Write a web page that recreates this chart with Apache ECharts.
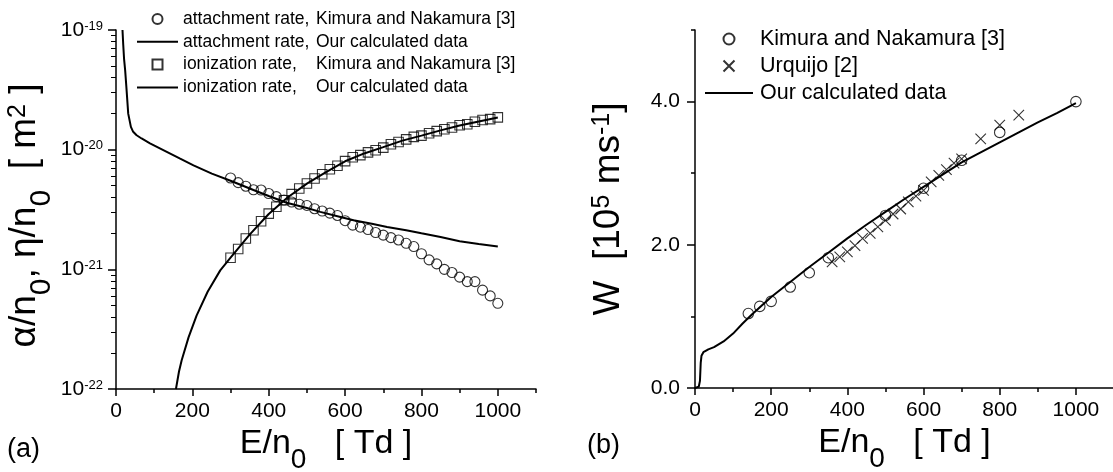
<!DOCTYPE html>
<html>
<head>
<meta charset="utf-8">
<script src="https://cdn.jsdelivr.net/npm/echarts@6/dist/echarts.min.js"></script>
<style>
  html, body { margin: 0; padding: 0; background: #fff; }
  #chart { width: 1113px; height: 472px; }
</style>
</head>
<body>
<div id="chart"></div>
<script>
// ---------- panel (a): attachment and ionization coefficients ----------
const attKimuraE = [300, 320, 340, 360, 380, 400, 420, 440, 460, 480, 500, 520, 540, 560, 580, 600, 620, 640,
                    660, 680, 700, 720, 740, 760, 780, 800, 820, 840, 860, 880, 900, 920, 940, 960, 980, 1000];
const attKimuraV = [5.8e-21, 5.3e-21, 4.95e-21, 4.62e-21, 4.6e-21, 4.3e-21, 4.05e-21, 3.8e-21, 3.65e-21, 3.5e-21,
                    3.42e-21, 3.21e-21, 3.07e-21, 2.95e-21, 2.82e-21, 2.55e-21, 2.34e-21, 2.25e-21, 2.15e-21, 2.03e-21,
                    1.93e-21, 1.84e-21, 1.76e-21, 1.65e-21, 1.55e-21, 1.35e-21, 1.2e-21, 1.11e-21, 1.0e-21, 9.4e-22,
                    8.6e-22, 7.9e-22, 7.9e-22, 6.7e-22, 6.0e-22, 5.2e-22];

const attCalcE = [17, 19, 21, 24, 27, 32, 39, 45, 54, 67, 89, 133, 168, 203, 251, 300, 360, 400, 447, 500,
                  535, 580, 622, 670, 710, 760, 800, 850, 900, 950, 1000];
const attCalcV = [1.0e-19, 7.5e-20, 5.8e-20, 4.6e-20, 3.4e-20, 2.0e-20, 1.55e-20, 1.41e-20, 1.32e-20, 1.24e-20,
                  1.13e-20, 9.6e-21, 8.4e-21, 7.4e-21, 6.3e-21, 5.5e-21, 4.6e-21, 4.1e-21, 3.6e-21, 3.25e-21,
                  3.02e-21, 2.78e-21, 2.57e-21, 2.4e-21, 2.26e-21, 2.12e-21, 2.0e-21, 1.86e-21, 1.72e-21, 1.63e-21, 1.55e-21];

const ionKimuraE = [300, 320, 340, 360, 380, 400, 420, 440, 460, 480, 500, 520, 540, 560, 580, 600, 620, 640,
                    660, 680, 700, 720, 740, 760, 780, 800, 820, 840, 860, 880, 900, 920, 940, 960, 980, 1000];
const ionKimuraV = [1.25e-21, 1.48e-21, 1.81e-21, 2.12e-21, 2.52e-21, 2.92e-21, 3.33e-21, 3.78e-21, 4.25e-21, 4.73e-21,
                    5.21e-21, 5.75e-21, 6.24e-21, 6.87e-21, 7.33e-21, 8.02e-21, 8.65e-21, 9.0e-21, 9.5e-21, 9.9e-21,
                    1.04e-20, 1.11e-20, 1.16e-20, 1.22e-20, 1.28e-20, 1.31e-20, 1.37e-20, 1.43e-20, 1.48e-20, 1.53e-20,
                    1.6e-20, 1.63e-20, 1.71e-20, 1.77e-20, 1.8e-20, 1.86e-20];

const ionCalcE = [157, 165, 172, 190, 211, 240, 273, 300, 350, 400, 450, 500, 550, 600, 650, 700, 750, 800, 850, 900, 950, 1000];
const ionCalcV = [1.0e-22, 1.4e-22, 1.74e-22, 2.7e-22, 4.1e-22, 6.5e-22, 9.8e-22, 1.25e-21, 1.95e-21, 2.9e-21, 4.0e-21,
                  5.2e-21, 6.5e-21, 8.0e-21, 9.3e-21, 1.05e-20, 1.19e-20, 1.31e-20, 1.45e-20, 1.59e-20, 1.72e-20, 1.86e-20];

// ---------- panel (b): drift velocity W ----------
const wKimuraE = [140, 170, 200, 250, 300, 350, 500, 600, 700, 800, 1000];
const wKimuraV = [1.04, 1.14, 1.21, 1.41, 1.61, 1.82, 2.41, 2.79, 3.18, 3.57, 4.0];

const wUrquijoE = [360, 380, 400, 420, 440, 460, 480, 500, 520, 540, 560, 580, 600, 620, 640, 660, 680, 700, 750, 800, 850];
const wUrquijoV = [1.76, 1.83, 1.9, 1.99, 2.09, 2.16, 2.25, 2.34, 2.43, 2.5, 2.6, 2.68, 2.76, 2.88, 2.97, 3.05, 3.14, 3.2,
                   3.48, 3.67, 3.81];

const wCalcE = [0, 10, 13, 15, 17, 22, 35, 50, 75, 100, 125, 150, 200, 250, 300, 350, 400, 450, 500, 550, 600, 650,
                700, 750, 800, 850, 900, 950, 1000];
const wCalcV = [0, 0.02, 0.1, 0.35, 0.45, 0.5, 0.54, 0.57, 0.65, 0.76, 0.9, 1.03, 1.27, 1.48, 1.69, 1.89, 2.09, 2.28,
                2.46, 2.64, 2.81, 2.98, 3.15, 3.29, 3.43, 3.57, 3.71, 3.84, 3.98];

// ---------- axis ticks ----------
const eMajorTicks = [0, 200, 400, 600, 800, 1000];
const eMinorTicks = [100, 300, 500, 700, 900, 1100];
const decadeTicks = [-22, -21, -20, -19];
const decadeSteps = [2, 3, 4, 5, 6, 7, 8, 9];
const wMajorTicks = [0, 2, 4];
const wMinorTicks = [1, 3, 5];

// ---------- legend text ----------
const legendA = [
  'attachment rate, Kimura and Nakamura [3]',
  'attachment rate, Our calculated data',
  'ionization rate, Kimura and Nakamura [3]',
  'ionization rate, Our calculated data'
];
const legendB = ['Kimura and Nakamura [3]', 'Urquijo [2]', 'Our calculated data'];

const FONT = '"Liberation Sans", Arial, Helvetica, sans-serif';
const INK = '#000';

// panel (a) is drawn on log10 of the rate coefficient
const pairsLog = (xs, ys) => xs.map((x, i) => [x, Math.log10(ys[i])]);
const pairs = (xs, ys) => xs.map((x, i) => [x, ys[i]]);

const logMinor = [];
for (let d = decadeTicks[0]; d < decadeTicks[decadeTicks.length - 1]; d++) {
  decadeSteps.forEach(k => logMinor.push(d + Math.log10(k)));
}

// rich styles for axis titles: m = main text, s = subscript, p = superscript
function titleRich(size, subSize, supSize, subDrop) {
  return {
    m: { fontFamily: FONT, fontSize: size, lineHeight: size, verticalAlign: 'top', color: INK },
    s: { fontFamily: FONT, fontSize: subSize, lineHeight: subSize, verticalAlign: 'top', padding: [subDrop, 0, 0, 0], color: INK },
    p: { fontFamily: FONT, fontSize: supSize, lineHeight: supSize, verticalAlign: 'top', color: INK }
  };
}
const xTitleRich = titleRich(34, 28, 22, 19);
const yTitleRich = titleRich(37, 30, 25, 21);

const openSymbolStyle = { color: 'rgba(255,255,255,0)', borderColor: '#000', borderWidth: 1.1 };
const crossPath = 'path://M0,0L10,10M10,0L0,10';
const lineIcon = 'path://M0,0L41,0L41,2L0,2Z';
const lineIconB = 'path://M0,0L48,0L48,2L0,2Z';
const squareIcon = 'path://M0,0L10,0L10,10L0,10Z';

function xAxes(grid) {
  return [
    {
      gridIndex: grid, type: 'value', min: 0, max: 1100,
      axisLine: { show: true, onZero: false, lineStyle: { color: INK, width: 1.5 } },
      axisTick: { show: true, length: 7, customValues: eMajorTicks, lineStyle: { color: INK, width: 1.5 } },
      axisLabel: {
        customValues: eMajorTicks, margin: 12, fontFamily: FONT, fontSize: 21, color: INK,
        formatter: v => String(v)
      },
      splitLine: { show: false },
      name: '{m|E/n}{s|0}{m|   [ Td ]}',
      nameLocation: 'middle', nameGap: 36,
      nameTextStyle: { rich: xTitleRich }
    },
    {
      gridIndex: grid, type: 'value', min: 0, max: 1100, position: 'bottom',
      axisLine: { show: false },
      axisTick: { show: true, length: 4, customValues: eMinorTicks, lineStyle: { color: INK, width: 1.5 } },
      axisLabel: { show: false },
      splitLine: { show: false }
    }
  ];
}

const option = {
  animation: false,
  backgroundColor: '#fff',
  grid: [
    { left: 116, top: 30, width: 420, height: 359, containLabel: false, outerBoundsMode: 'none' },
    { left: 695, top: 30, width: 419, height: 358, containLabel: false, outerBoundsMode: 'none' }
  ],
  xAxis: [...xAxes(0), ...xAxes(1)],
  yAxis: [
    {
      gridIndex: 0, type: 'value', min: -22, max: -19, interval: 1,
      axisLine: { show: true, onZero: false, lineStyle: { color: INK, width: 1.5 } },
      axisTick: { show: true, length: 8, lineStyle: { color: INK, width: 1.5 } },
      axisLabel: {
        margin: 13, color: INK,
        formatter: v => '{b|10}{p|' + v + '}',
        rich: {
          b: { fontFamily: FONT, fontSize: 21, lineHeight: 21, verticalAlign: 'top', color: INK },
          p: { fontFamily: FONT, fontSize: 13, lineHeight: 13, verticalAlign: 'top', color: INK }
        }
      },
      splitLine: { show: false },
      name: '{m|\u03b1/n}{s|0}{m|, \u03b7/n}{s|0}{m|  [ m}{p|2}{m| ]}',
      nameLocation: 'middle', nameRotate: 90, nameGap: 47,
      nameTextStyle: { rich: yTitleRich, padding: [0, 12, 0, 0] }
    },
    {
      gridIndex: 0, type: 'value', min: -22, max: -19, position: 'left',
      axisLine: { show: false },
      axisTick: { show: true, length: 5, customValues: logMinor, lineStyle: { color: INK, width: 1 } },
      axisLabel: { show: false },
      splitLine: { show: false }
    },
    {
      gridIndex: 1, type: 'value', min: 0, max: 5,
      axisLine: { show: true, onZero: false, lineStyle: { color: INK, width: 1.5 } },
      axisTick: { show: true, length: 8, customValues: wMajorTicks, lineStyle: { color: INK, width: 1.5 } },
      axisLabel: {
        customValues: wMajorTicks, margin: 15, fontFamily: FONT, fontSize: 21, color: INK,
        formatter: v => v.toFixed(1)
      },
      splitLine: { show: false },
      name: '{m|W  [10}{p|5}{m| ms}{p|-1}{m|]}',
      nameLocation: 'middle', nameRotate: 90, nameGap: 68,
      nameTextStyle: { rich: yTitleRich }
    },
    {
      gridIndex: 1, type: 'value', min: 0, max: 5, position: 'left',
      axisLine: { show: false },
      axisTick: { show: true, length: 4, customValues: wMinorTicks, lineStyle: { color: INK, width: 1.5 } },
      axisLabel: { show: false },
      splitLine: { show: false }
    }
  ],
  legend: [
    {
      orient: 'vertical', left: 137, top: 10, padding: 0,
      itemWidth: 41, itemHeight: 10, itemGap: 4.8, selectedMode: false,
      symbolKeepAspect: true,
      data: [
        { name: legendA[0], icon: 'circle' },
        { name: legendA[1], icon: lineIcon, itemStyle: { color: INK } },
        { name: legendA[2], icon: squareIcon },
        { name: legendA[3], icon: lineIcon, itemStyle: { color: INK } }
      ],
      formatter: name => {
        const i = name.indexOf(',') + 1;
        return '{a|' + name.slice(0, i) + '}{b|' + name.slice(i).trim() + '}';
      },
      textStyle: {
        fontFamily: FONT, fontSize: 17.5, color: INK,
        rich: {
          a: { fontFamily: FONT, fontSize: 17.5, width: 133, color: INK },
          b: { fontFamily: FONT, fontSize: 17.5, color: INK }
        }
      }
    },
    {
      orient: 'vertical', left: 705, top: 28, padding: 0,
      itemWidth: 48, itemHeight: 11, itemGap: 5, selectedMode: false,
      symbolKeepAspect: true,
      data: [
        { name: legendB[0], icon: 'circle' },
        { name: legendB[1] },
        { name: legendB[2], icon: lineIconB, itemStyle: { color: INK } }
      ],
      textStyle: { fontFamily: FONT, fontSize: 21.5, color: INK, padding: [0, 0, 0, 2] }
    }
  ],
  graphic: [
    { type: 'text', left: 7, top: 436, style: { text: '(a)', font: '27px ' + FONT, fill: INK } },
    { type: 'text', left: 587, top: 432, style: { text: '(b)', font: '27px ' + FONT, fill: INK } }
  ],
  series: [
    {
      name: legendA[1], type: 'line', xAxisIndex: 0, yAxisIndex: 0,
      data: pairsLog(attCalcE, attCalcV), symbol: 'none', smooth: false,
      lineStyle: { color: INK, width: 2 }, itemStyle: { color: INK }, z: 2
    },
    {
      name: legendA[3], type: 'line', xAxisIndex: 0, yAxisIndex: 0,
      data: pairsLog(ionCalcE, ionCalcV), symbol: 'none', smooth: false,
      lineStyle: { color: INK, width: 2 }, itemStyle: { color: INK }, z: 2
    },
    {
      name: legendA[0], type: 'scatter', xAxisIndex: 0, yAxisIndex: 0,
      data: pairsLog(attKimuraE, attKimuraV), symbol: 'circle', symbolSize: 10,
      itemStyle: openSymbolStyle, z: 3
    },
    {
      name: legendA[2], type: 'scatter', xAxisIndex: 0, yAxisIndex: 0,
      data: pairsLog(ionKimuraE, ionKimuraV), symbol: 'rect', symbolSize: 9.5,
      itemStyle: openSymbolStyle, z: 3
    },
    {
      name: legendB[2], type: 'line', xAxisIndex: 2, yAxisIndex: 2,
      data: pairs(wCalcE, wCalcV), symbol: 'none', smooth: false,
      lineStyle: { color: INK, width: 2 }, itemStyle: { color: INK }, z: 2
    },
    {
      name: legendB[0], type: 'scatter', xAxisIndex: 2, yAxisIndex: 2,
      data: pairs(wKimuraE, wKimuraV), symbol: 'circle', symbolSize: 10.5,
      itemStyle: openSymbolStyle, z: 3
    },
    {
      name: legendB[1], type: 'scatter', xAxisIndex: 2, yAxisIndex: 2,
      data: pairs(wUrquijoE, wUrquijoV), symbol: crossPath, symbolSize: 10.5,
      itemStyle: { color: 'none', borderColor: '#000', borderWidth: 1.1 }, z: 3
    }
  ]
};

const chart = echarts.init(document.getElementById('chart'), null, { renderer: 'canvas' });
chart.setOption(option);
</script>
</body>
</html>
